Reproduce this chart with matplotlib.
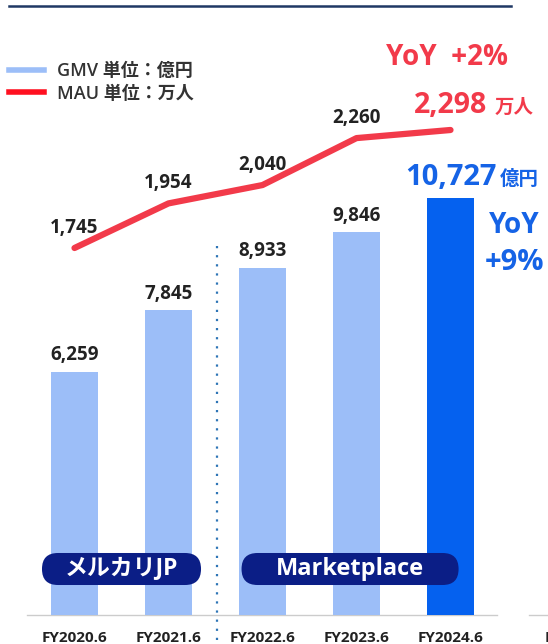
import matplotlib.pyplot as plt
from matplotlib import font_manager as fm
from matplotlib.lines import Line2D
from matplotlib.patches import FancyBboxPatch

# pick a latin family that really has a bold face installed
latin = 'DejaVu Sans'
for fam in ['Open Sans', 'Noto Sans', 'Lato', 'Roboto']:
    path = fm.findfont(fm.FontProperties(family=fam, weight='bold'), fallback_to_default=False)
    if 'bold' in path.lower():
        latin = fam
        break
plt.rcParams['font.family'] = [latin, 'Noto Sans CJK JP', 'DejaVu Sans']

years = ['FY2020.6', 'FY2021.6', 'FY2022.6', 'FY2023.6', 'FY2024.6']
gmv = [6259, 7845, 8933, 9846, 10727]
mau = [1745, 1954, 2040, 2260, 2298]
segments = ['メルカリJP', 'Marketplace']
gmv_yoy = '+9%'
mau_yoy = '+2%'

W, H = 548, 644
fig = plt.figure(figsize=(W / 100, H / 100), dpi=100)

light = '#9CBEF8'
blue = '#0561EF'
blue_txt = '#1563E6'
red = '#F23A4A'
navy = '#0B1E86'
dark = '#222222'

# pixel mapping: bar i centred at 74.5 + 94*i, baseline at y=615
X0, DX = 74.5, 94.0
Y0, SY = 615, 0.0389

ax = fig.add_axes([0, 0, 1, 1])
ax.set_xlim(-X0 / DX, (W - X0) / DX)
ax.set_ylim(-(H - Y0) / SY, Y0 / SY)
ax.axis('off')

x = list(range(len(years)))
colors = [light] * 4 + [blue]
ax.bar(x, gmv, width=0.5, color=colors, zorder=2)
for i, v in enumerate(gmv[:-1]):
    ax.annotate(f'{v:,}', (i, v), xytext=(0, 8), textcoords='offset points',
                ha='center', va='baseline', fontsize=13.5, fontweight='bold', color=dark)
ax.annotate(f'{gmv[-1]:,}', (4, gmv[-1]), xytext=(0.5, 9.4), textcoords='offset points',
            ha='center', va='baseline', fontsize=21, fontweight='bold', color=blue_txt)
ax.annotate('億円', (4, gmv[-1]), xytext=(35.6, 9.4), textcoords='offset points',
            ha='left', va='baseline', fontsize=14, fontweight='bold', color=blue_txt)

# baseline (and the start of the neighbouring panel)
ax.plot([-0.505, 4.49], [0, 0], color='#CCCCCC', lw=1, zorder=1)
ax.plot([4.84, 5.2], [0, 0], color='#CCCCCC', lw=1, zorder=1)

# category labels
for i, lab in enumerate(years):
    ax.annotate(lab, (i, 0), xytext=(0, -19.5), textcoords='offset points',
                ha='center', va='baseline', fontsize=11, fontweight='bold', color=dark)
ax.annotate(years[0], (5.0, 0), xytext=(0, -19.5), textcoords='offset points',
            ha='left', va='baseline', fontsize=11, fontweight='bold', color=dark)

# dotted separator
ax.plot([1.52, 1.52], [-640, 9640], color='#2E75B6', lw=1.6,
        ls=(0, (1, 3.1)), zorder=1)

# segment badges
for (x_left, x_right), lab, fs in zip([(-0.346, 1.346), (1.777, 4.086)], segments, [16.5, 17]):
    box = FancyBboxPatch((x_left, 771), x_right - x_left, 823,
                         boxstyle='round,pad=0,rounding_size=0.17',
                         mutation_aspect=2418, fc=navy, ec='none', zorder=3)
    ax.add_patch(box)
    ax.text((x_left + x_right) / 2, 1182, lab, ha='center', va='center', fontsize=fs,
            fontweight='bold', color='white', zorder=4)

# MAU line on its own y scale
ax2 = ax.twinx()
ax2.set_ylim(1745 - (H - 248) / 0.2134, 1745 + 248 / 0.2134)
ax2.axis('off')
ax2.plot(x, mau, color=red, lw=4.5, solid_capstyle='round', solid_joinstyle='round')
for i, v in enumerate(mau[:-1]):
    ax2.annotate(f'{v:,}', (i, v), xytext=(0, 11), textcoords='offset points',
                 ha='center', va='baseline', fontsize=13.5, fontweight='bold', color=dark)
ax2.annotate(f'{mau[-1]:,}', (4, mau[-1]), xytext=(0, 12), textcoords='offset points',
             ha='center', va='baseline', fontsize=20.5, fontweight='bold', color=red)
ax2.annotate('万人', (4, mau[-1]), xytext=(32, 12), textcoords='offset points',
             ha='left', va='baseline', fontsize=14, fontweight='bold', color=red)

# YoY callouts
fig.text(447 / W, 1 - 65 / H, 'YoY  ' + mau_yoy, ha='center', va='baseline',
         fontsize=20, fontweight='bold', color=red)
fig.text(514 / W, 1 - 233 / H, 'YoY', ha='center', va='baseline',
         fontsize=20, fontweight='bold', color=blue_txt)
fig.text(515 / W, 1 - 270 / H, gmv_yoy, ha='center', va='baseline',
         fontsize=21, fontweight='bold', color=blue_txt)

# top rule
fig.add_artist(Line2D([9 / W, 511 / W], [1 - 6 / H, 1 - 6 / H], color='#1F3864', lw=1.8))

# legend
handles = [Line2D([], [], color=light, lw=4), Line2D([], [], color='#FF1020', lw=4)]
ax2.legend(handles, ['GMV 単位：億円', 'MAU 単位：万人'], loc='upper left',
           bbox_to_anchor=(9 / W, 1 - 62 / H), frameon=False,
           prop={'size': 13, 'weight': 'semibold'},
           handlelength=1.95, handletextpad=0.7, labelspacing=0.25,
           borderpad=0, borderaxespad=0, labelcolor='#333333')

fig.savefig('out.png', dpi=100)
